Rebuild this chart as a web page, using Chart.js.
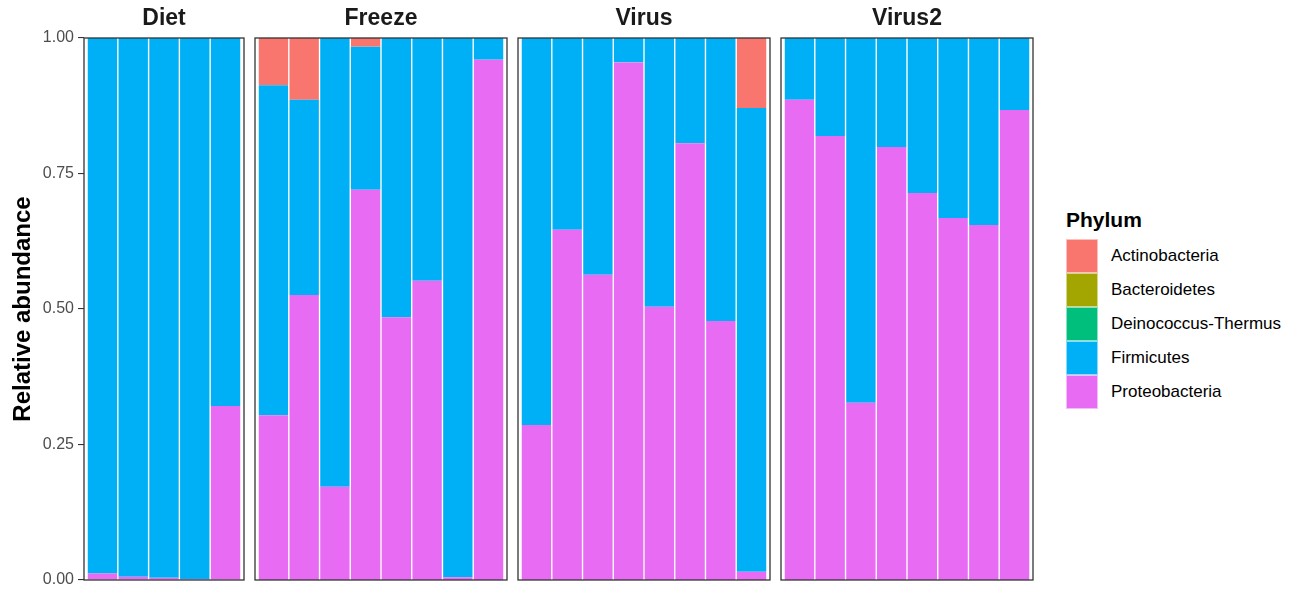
<!DOCTYPE html>
<html>
<head>
<meta charset="utf-8">
<script src="https://cdn.jsdelivr.net/npm/chart.js@4.4.1/dist/chart.umd.min.js"></script>
<style>
  html, body { margin: 0; padding: 0; background: #fff; }
  body { width: 1302px; height: 596px; position: relative; overflow: hidden; font-family: "Liberation Sans", Arial, sans-serif; }
  .panel { position: absolute; top: 0; }
  #legend { position: absolute; left: 1066px; top: 209px; }
  #legend .ttl { font-weight: bold; font-size: 21px; line-height: 21px; color: #000; height: 30px; }
  #legend .row { display: flex; align-items: center; height: 34px; }
  #legend .key { width: 32px; height: 34px; box-sizing: border-box; border: 1px solid rgba(255,255,255,0.55); }
  #legend .lab { margin-left: 13px; font-size: 17px; line-height: 34px; color: #000; }
</style>
</head>
<body>
<div id="legend"></div>
<script>
// ---- data ----
const facetNames = ['Diet', 'Freeze', 'Virus', 'Virus2'];
const facetSizes = [5, 8, 8, 8];
const phyla = ['Actinobacteria', 'Bacteroidetes', 'Deinococcus-Thermus', 'Firmicutes', 'Proteobacteria'];
const yTicks = [0, 0.25, 0.5, 0.75, 1];

const actinobacteria = [
  0, 0, 0, 0, 0,
  0.087, 0.114, 0, 0.016, 0, 0, 0, 0,
  0, 0, 0, 0, 0, 0, 0, 0.129,
  0, 0, 0, 0, 0, 0, 0, 0
];
const bacteroidetes = [
  0, 0, 0, 0, 0,
  0, 0, 0, 0, 0, 0, 0, 0,
  0, 0, 0, 0, 0, 0, 0, 0,
  0, 0, 0, 0, 0, 0, 0, 0
];
const deinococcusThermus = [
  0, 0, 0, 0, 0,
  0, 0, 0, 0, 0, 0, 0, 0,
  0, 0, 0, 0, 0, 0, 0, 0,
  0, 0, 0, 0, 0, 0, 0, 0
];
const firmicutes = [
  0.988, 0.994, 0.996, 0.998, 0.679,
  0.609, 0.360, 0.828, 0.264, 0.515, 0.448, 0.995, 0.040,
  0.714, 0.354, 0.437, 0.045, 0.496, 0.194, 0.522, 0.856,
  0.114, 0.181, 0.673, 0.201, 0.286, 0.332, 0.345, 0.133
];
const proteobacteria = [
  0.012, 0.006, 0.004, 0.002, 0.321,
  0.304, 0.526, 0.172, 0.720, 0.485, 0.552, 0.005, 0.960,
  0.286, 0.646, 0.563, 0.955, 0.504, 0.806, 0.478, 0.015,
  0.886, 0.819, 0.327, 0.799, 0.714, 0.668, 0.655, 0.867
];

// ---- styles ----
const phylumColors = ['#F8766D', '#A3A500', '#00BF7D', '#00B0F6', '#E76BF3'];
const FONT = '"Liberation Sans", Arial, sans-serif';
const panelLeft = [84, 255, 518, 781];
const panelWidth = [160, 252, 252, 252];
const PAD = 3;

const seriesByPhylum = [actinobacteria, bacteroidetes, deinococcusThermus, firmicutes, proteobacteria];

const panelBorder = {
  id: 'panelBorder',
  afterDraw(chart) {
    const { ctx, chartArea: a } = chart;
    ctx.save();
    ctx.strokeStyle = '#333333';
    ctx.lineWidth = 1.3;
    ctx.strokeRect(a.left, a.top, a.right - a.left, a.bottom - a.top);
    ctx.restore();
  }
};

let start = 0;
facetNames.forEach((name, f) => {
  const n = facetSizes[f];
  const first = f === 0;
  const div = document.createElement('div');
  div.className = 'panel';
  const cLeft = first ? 0 : panelLeft[f] - PAD;
  const cWidth = first ? panelLeft[f] + panelWidth[f] + PAD : panelWidth[f] + 2 * PAD;
  div.style.left = cLeft + 'px';
  const canvas = document.createElement('canvas');
  canvas.width = cWidth;
  canvas.height = 596;
  canvas.style.width = cWidth + 'px';
  canvas.style.height = '596px';
  div.appendChild(canvas);
  document.body.appendChild(div);

  // bottom-first stacking: reverse phylum order
  const datasets = [];
  for (let p = phyla.length - 1; p >= 0; p--) {
    datasets.push({
      label: phyla[p],
      data: seriesByPhylum[p].slice(start, start + n).map((v, i) => ({ x: i + 1, y: v })),
      backgroundColor: phylumColors[p],
      borderWidth: 0,
      barPercentage: 0.955,
      categoryPercentage: 1.0
    });
  }

  const yScale = {
    stacked: true,
    min: 0,
    max: 1,
    display: first,
    afterBuildTicks: (scale) => { scale.ticks = yTicks.map(v => ({ value: v })); },
    border: { display: false },
    grid: { drawOnChartArea: false, drawTicks: true, tickLength: 6, color: '#333333', lineWidth: 1.1 },
    ticks: {
      color: '#4D4D4D',
      padding: 4,
      font: { family: FONT, size: 16 },
      callback: (v) => Number(v).toFixed(2)
    },
    title: {
      display: true,
      text: 'Relative abundance',
      color: '#000',
      font: { family: FONT, size: 24, weight: 'bold', lineHeight: 1.2 },
      padding: { top: 9, bottom: 0 }
    }
  };
  if (first) {
    yScale.afterFit = (scale) => { scale.width = panelLeft[0]; };
  }

  new Chart(canvas, {
    type: 'bar',
    data: { datasets },
    options: {
      responsive: false,
      animation: false,
      devicePixelRatio: 1,
      layout: { padding: { left: first ? 0 : PAD, right: PAD, top: 0, bottom: 16 } },
      plugins: {
        legend: { display: false },
        tooltip: { enabled: false },
        title: {
          display: true,
          text: name,
          fullSize: false,
          color: '#1A1A1A',
          font: { family: FONT, size: 23, weight: 'bold', lineHeight: 1.2 },
          padding: { top: 5, bottom: 5.4 }
        }
      },
      scales: {
        x: {
          type: 'linear',
          stacked: true,
          min: 0.4,
          max: n + 0.6,
          display: false,
          offset: false
        },
        y: yScale
      }
    },
    plugins: [panelBorder]
  });
  start += n;
});

// ---- legend ----
const legend = document.getElementById('legend');
const ttl = document.createElement('div');
ttl.className = 'ttl';
ttl.textContent = 'Phylum';
legend.appendChild(ttl);
phyla.forEach((p, i) => {
  const row = document.createElement('div');
  row.className = 'row';
  const key = document.createElement('div');
  key.className = 'key';
  key.style.background = phylumColors[i];
  const lab = document.createElement('div');
  lab.className = 'lab';
  lab.textContent = p;
  row.appendChild(key);
  row.appendChild(lab);
  legend.appendChild(row);
});
</script>
</body>
</html>
